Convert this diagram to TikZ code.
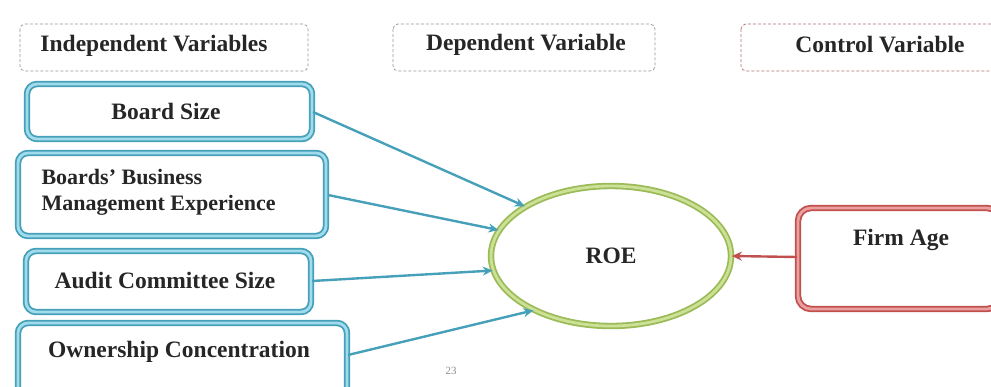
\documentclass[tikz,border=0pt]{standalone}
\usepackage{fontspec}
\setmainfont{Liberation Serif}
\usetikzlibrary{arrows.meta,shapes.geometric}
\definecolor{tealline}{RGB}{70,160,185}
\definecolor{tealfill}{RGB}{160,220,235}
\definecolor{greenline}{RGB}{155,187,89}
\definecolor{greenfill}{RGB}{205,225,150}
\definecolor{redline}{RGB}{192,80,77}
\definecolor{redfill}{RGB}{235,160,160}
\definecolor{headgrey}{RGB}{150,150,150}
\tikzset{
  x=1pt, y=-1pt,
  lbl/.style={font=\fontsize{23.5}{26}\selectfont\bfseries, text=black!85},
  headbox/.style={draw=headgrey, densely dashed, line width=0.7pt, rounded corners=5pt},
  varbox/.style={draw=tealline, line width=1.8pt, double=tealfill, double distance=2.8pt, rounded corners=10pt, fill=white},
  ctrlbox/.style={draw=redline, line width=1.8pt, double=redfill, double distance=2.8pt, rounded corners=13pt, fill=white},
  outcome/.style={ellipse, draw=greenline, line width=1.8pt, double=greenfill, double distance=2.8pt, fill=white},
  link/.style={draw=tealline, line width=2.4pt, -{Stealth[length=10pt,width=9pt]}},
  ctrllink/.style={draw=redline, line width=2.4pt, -{Stealth[length=10pt,width=9pt]}}
}
\begin{document}
\begin{tikzpicture}
\useasboundingbox (0,0) rectangle (991,386);
% header legend boxes
\draw[headbox] (20,24) rectangle (308,71);
\node[lbl] (hind) at (154,46) {Independent Variables};
\draw[headbox] (393,24) rectangle (655,71);
\node[lbl] (hdep) at (526,45) {Dependent Variable};
\draw[headbox, draw=redline!55!headgrey] (741,24) rectangle (1000,71);
\node[lbl] (hctl) at (880,45) {Control Variable};
% independent variables
\draw[varbox] (27,84) rectangle (312,139);
\node[lbl] (bsize) at (166,111) {Board Size};
\draw[varbox] (18,153) rectangle (326,236);
\node[lbl, font=\fontsize{22}{26}\selectfont\bfseries, align=left, anchor=west] (bexp) at (38,192) {Boards' Business\\Management Experience};
\draw[varbox] (26,251) rectangle (311,312);
\node[lbl] (audit) at (165,280) {Audit Committee Size};
\draw[varbox] (18,323) rectangle (347,400);
\node[lbl] (own) at (179,352) {Ownership Concentration};
% dependent variable
\node[outcome, minimum width=240pt, minimum height=140pt, lbl] (roe) at (611,256) {ROE};
% control variable
\draw[ctrlbox] (798,208) rectangle (1000,309);
\node[lbl] (age) at (901,240) {Firm Age};
% anchor points on the box edges
\coordinate (bsizeR) at (313,112);
\coordinate (bexpR) at (328,195);
\coordinate (auditR) at (312,281);
\coordinate (ownR) at (348,355);
\coordinate (ageL) at (797,257);
\draw[link] (bsizeR) -- (roe.150);
\draw[link] (bexpR) -- (roe.167);
\draw[link] (auditR) -- (roe.187);
\draw[link] (ownR) -- (roe.215);
\draw[ctrllink] (ageL) -- (roe.east);
% page number
\node[font=\fontsize{11}{12}\selectfont, text=black!45] (pg) at (451,371) {23};
\end{tikzpicture}
\end{document}
